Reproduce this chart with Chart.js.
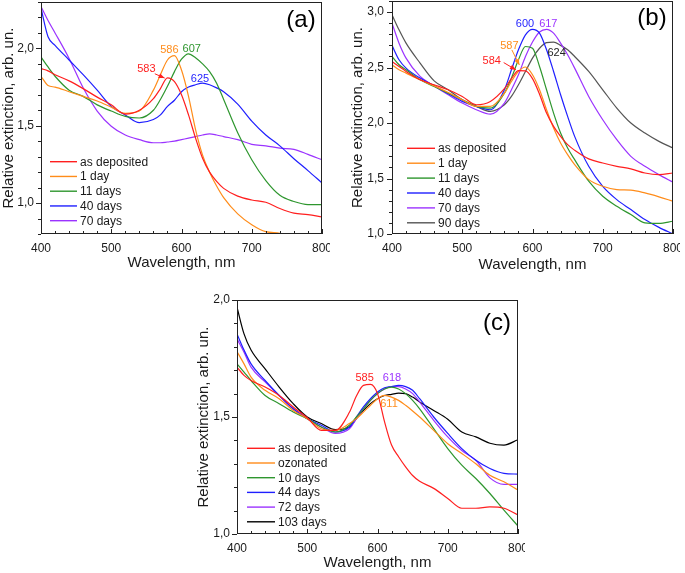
<!DOCTYPE html>
<html><head><meta charset="utf-8">
<script src="https://cdn.jsdelivr.net/npm/chart.js@4/dist/chart.umd.min.js"></script>
<style>
html,body{margin:0;padding:0;background:#fff;}
body{width:685px;height:573px;position:relative;overflow:hidden;}
canvas{position:absolute;}
</style></head><body>
<canvas id="ca" width="330" height="275" style="left:0;top:0"></canvas>
<canvas id="cb" width="335" height="275" style="left:345px;top:0"></canvas>
<canvas id="cc" width="330" height="288" style="left:195px;top:285px"></canvas>
<script>
// ---------- shared wavelength grid (nm) ----------
const wl = [400,410,420,440,460,480,500,520,540,560,570,580,590,600,610,620,630,640,650,660,680,700,720,740,760,780,800];
const xTicks = [400,500,600,700,800];

// ---------- panel (a) ----------
const aLabels = ['as deposited','1 day','11 days','40 days','70 days'];
const aColors = ['#ff1f1f','#ff8c1a','#2e962e','#1f1fff','#9b33ff'];
const aDeposited = [1.87,1.855,1.83,1.79,1.74,1.685,1.635,1.575,1.60,1.675,1.74,1.81,1.785,1.70,1.57,1.42,1.29,1.20,1.14,1.095,1.045,1.02,1.005,0.965,0.935,0.925,0.91];
const aOneDay    = [1.82,1.76,1.75,1.72,1.69,1.66,1.62,1.58,1.595,1.73,1.83,1.925,1.953,1.86,1.69,1.475,1.31,1.20,1.11,1.035,0.93,0.86,0.815,0.805,0.78,0.76,0.74];
const aEleven    = [1.945,1.88,1.82,1.73,1.69,1.635,1.595,1.56,1.55,1.60,1.67,1.755,1.85,1.93,1.965,1.94,1.90,1.85,1.775,1.67,1.455,1.28,1.145,1.05,1.01,0.99,0.99];
const aForty     = [2.26,2.075,2.02,1.925,1.83,1.73,1.625,1.57,1.52,1.54,1.57,1.625,1.665,1.72,1.75,1.765,1.775,1.765,1.745,1.72,1.64,1.53,1.44,1.37,1.287,1.21,1.13];
const aSeventy   = [2.27,2.18,2.10,1.935,1.745,1.595,1.497,1.44,1.41,1.39,1.39,1.395,1.40,1.41,1.42,1.43,1.44,1.447,1.44,1.43,1.41,1.38,1.37,1.355,1.347,1.315,1.28];
const aYTicks = [1.0,1.5,2.0];
const aPeaks = [
  {t:'583', x:550, y:1.865, c:0, ax:[562,1.836,576,1.808]},
  {t:'586', x:582.7, y:1.99, c:1},
  {t:'607', x:614.5, y:1.994, c:2},
  {t:'625', x:626.3, y:1.80, c:3}
];

// ---------- panel (b) ----------
const bLabels = ['as deposited','1 day','11 days','40 days','70 days','90 days'];
const bColors = ['#ff1f1f','#ff8c1a','#2e962e','#1f1fff','#9b33ff','#555555'];
const bDeposited = [2.554,2.51,2.465,2.39,2.345,2.30,2.24,2.165,2.195,2.31,2.40,2.473,2.47,2.40,2.26,2.09,1.97,1.88,1.805,1.755,1.677,1.64,1.61,1.587,1.55,1.535,1.55];
const bOneDay    = [2.525,2.48,2.45,2.39,2.335,2.275,2.21,2.15,2.15,2.27,2.375,2.465,2.505,2.435,2.30,2.12,1.955,1.82,1.715,1.625,1.49,1.43,1.40,1.395,1.37,1.335,1.295];
const bEleven    = [2.60,2.525,2.48,2.39,2.33,2.27,2.21,2.15,2.135,2.27,2.405,2.57,2.69,2.674,2.51,2.30,2.09,1.91,1.775,1.67,1.476,1.34,1.25,1.175,1.10,1.095,1.115];
const bForty     = [2.70,2.57,2.495,2.405,2.335,2.265,2.195,2.15,2.12,2.30,2.48,2.66,2.795,2.845,2.81,2.66,2.465,2.255,2.06,1.88,1.61,1.43,1.31,1.22,1.13,1.06,1.00];
const bSeventy   = [2.90,2.72,2.585,2.42,2.335,2.255,2.18,2.12,2.08,2.18,2.30,2.435,2.60,2.73,2.82,2.845,2.81,2.72,2.615,2.495,2.24,2.03,1.85,1.70,1.61,1.535,1.467];
const bNinety    = [2.975,2.84,2.72,2.54,2.38,2.30,2.21,2.15,2.105,2.165,2.24,2.345,2.465,2.585,2.674,2.725,2.73,2.70,2.66,2.60,2.465,2.30,2.135,2.00,1.91,1.835,1.775];
const bYTicks = [1.0,1.5,2.0,2.5,3.0];
const bPeaks = [
  {t:'584', x:542, y:2.563, c:0, ax:[559,2.545,576.5,2.479]},
  {t:'587', x:567, y:2.698, c:1, ax:[570.6,2.659,581.3,2.524]},
  {t:'600', x:589.3, y:2.892, c:3},
  {t:'617', x:622.5, y:2.892, c:4},
  {t:'624', x:634.4, y:2.635, c:5, dark:true}
];

// ---------- panel (c) ----------
const cLabels = ['as deposited','ozonated','10 days','44 days','72 days','103 days'];
const cColors = ['#ff1f1f','#ff8c1a','#2e962e','#1f1fff','#9b33ff','#000000'];
const cDeposited = [1.713,1.678,1.656,1.628,1.592,1.543,1.497,1.443,1.443,1.52,1.59,1.635,1.639,1.60,1.48,1.38,1.33,1.287,1.25,1.225,1.195,1.152,1.11,1.11,1.116,1.11,1.081];
const cOzonated  = [1.78,1.727,1.67,1.614,1.578,1.528,1.493,1.45,1.443,1.472,1.493,1.521,1.55,1.578,1.592,1.585,1.571,1.55,1.526,1.50,1.443,1.386,1.344,1.30,1.251,1.223,1.188];
const cTen       = [1.727,1.692,1.656,1.592,1.557,1.521,1.493,1.457,1.436,1.465,1.50,1.535,1.571,1.60,1.62,1.628,1.62,1.60,1.571,1.535,1.45,1.365,1.294,1.237,1.173,1.102,1.034];
const cFortyFour = [1.855,1.786,1.727,1.656,1.592,1.535,1.493,1.465,1.436,1.457,1.50,1.543,1.578,1.607,1.625,1.63,1.635,1.63,1.614,1.578,1.50,1.43,1.365,1.315,1.28,1.259,1.256];
const cSeventyTwo= [1.834,1.777,1.713,1.65,1.592,1.535,1.493,1.457,1.43,1.45,1.493,1.535,1.571,1.60,1.62,1.63,1.63,1.62,1.60,1.564,1.486,1.415,1.357,1.315,1.24,1.212,1.212];
const cHundred3  = [1.969,1.855,1.786,1.706,1.628,1.557,1.50,1.472,1.446,1.457,1.493,1.528,1.557,1.578,1.592,1.597,1.602,1.60,1.585,1.564,1.528,1.49,1.436,1.415,1.388,1.38,1.403];
const cYTicks = [1.0,1.5,2.0];
const cPeaks = [
  {t:'585', x:581.7, y:1.666, c:0},
  {t:'618', x:620.6, y:1.666, c:4},
  {t:'611', x:616.4, y:1.554, c:1}
];

const FONT = "'Liberation Sans', Arial, Helvetica, sans-serif";
const TXT = '#1a1a1a';
Chart.defaults.font.family = FONT;

const decor = {
  id: 'decor',
  afterDatasetsDraw(chart, args, o) {
    const {ctx, chartArea: ca, scales: {x, y}} = chart;
    ctx.save();
    ctx.strokeStyle = '#222'; ctx.lineWidth = 1;
    // frame
    ctx.strokeRect(Math.round(ca.left) + 0.5, Math.round(ca.top) + 0.5,
                   Math.round(ca.right - ca.left) - 1, Math.round(ca.bottom - ca.top) - 1);
    ctx.beginPath();
    for (let v = 400; v <= 800; v += 20) {
      const px = Math.round(x.getPixelForValue(v)) + 0.5;
      const L = v % 100 === 0 ? 5 : 3;
      ctx.moveTo(px, ca.bottom); ctx.lineTo(px, ca.bottom - L);
    }
    for (let k = Math.ceil(y.min * 10 - 1e-6); k <= Math.floor(y.max * 10 + 1e-6); k++) {
      const py = Math.round(y.getPixelForValue(k / 10)) + 0.5;
      const L = k % 5 === 0 ? 5 : 3;
      ctx.moveTo(ca.left, py); ctx.lineTo(ca.left - L, py);
    }
    ctx.stroke();
    // legend
    const ds = chart.data.datasets;
    ctx.font = '12px ' + FONT;
    ctx.textBaseline = 'middle'; ctx.textAlign = 'left';
    ds.forEach((d, i) => {
      const yy = ca.bottom - o.legTop + i * o.legStep;
      ctx.strokeStyle = d.borderColor; ctx.lineWidth = 1.4;
      ctx.beginPath(); ctx.moveTo(ca.left + o.legX0, yy); ctx.lineTo(ca.left + o.legX1, yy); ctx.stroke();
      ctx.fillStyle = TXT;
      ctx.fillText(d.label, ca.left + o.legX1 + 3, yy + 0.5);
    });
    // peak labels
    ctx.font = '11px ' + FONT; ctx.textAlign = 'center';
    o.peaks.forEach(p => {
      const col = p.dark ? '#222' : ds[p.c].borderColor;
      ctx.fillStyle = col;
      ctx.fillText(p.t, x.getPixelForValue(p.x), y.getPixelForValue(p.y));
      if (p.ax) {
        const x1 = x.getPixelForValue(p.ax[0]), y1 = y.getPixelForValue(p.ax[1]);
        const x2 = x.getPixelForValue(p.ax[2]), y2 = y.getPixelForValue(p.ax[3]);
        ctx.strokeStyle = col; ctx.lineWidth = 1;
        ctx.beginPath(); ctx.moveTo(x1, y1); ctx.lineTo(x2, y2); ctx.stroke();
        const a = Math.atan2(y2 - y1, x2 - x1);
        ctx.beginPath();
        ctx.moveTo(x2, y2);
        ctx.lineTo(x2 - 6 * Math.cos(a) + 2.5 * Math.sin(a), y2 - 6 * Math.sin(a) - 2.5 * Math.cos(a));
        ctx.lineTo(x2 - 6 * Math.cos(a) - 2.5 * Math.sin(a), y2 - 6 * Math.sin(a) + 2.5 * Math.cos(a));
        ctx.closePath(); ctx.fill();
      }
    });
    // panel letter
    ctx.font = '24px ' + FONT; ctx.fillStyle = '#000';
    ctx.fillText(o.letter, ca.right - 21, ca.top + o.letterDy);
    ctx.restore();
  }
};

function makeChart(id, p) {
  const datasets = p.series.map((arr, i) => ({
    label: p.labels[i],
    data: wl.map((w, j) => ({x: w, y: arr[j]})),
    borderColor: p.colors[i],
    borderWidth: 1.2,
    pointRadius: 0,
    fill: false,
    cubicInterpolationMode: 'monotone'
  }));
  return new Chart(document.getElementById(id), {
    type: 'line',
    data: {datasets},
    plugins: [decor],
    options: {
      responsive: false, animation: false, events: [],
      layout: {padding: {left: 0, right: p.padR, top: p.padT, bottom: 0}},
      plugins: {
        legend: {display: false}, tooltip: {enabled: false},
        decor: {peaks: p.peaks, letter: p.letter, letterDy: p.letterDy,
                legTop: p.legTop, legStep: p.legStep, legX0: p.legX0, legX1: p.legX1}
      },
      scales: {
        x: {
          type: 'linear', min: 400, max: 800,
          grid: {display: false, drawTicks: false}, border: {display: false},
          ticks: {font: {size: 12}, color: TXT, padding: 7, maxRotation: 0, autoSkip: false},
          afterBuildTicks: s => { s.ticks = xTicks.map(v => ({value: v})); },
          afterFit: s => { s.height = p.xH; s.paddingLeft = 0; s.paddingRight = 0; },
          title: {display: true, text: 'Wavelength, nm', color: TXT, font: {size: 15}, padding: {top: 0, bottom: p.xTitlePad}}
        },
        y: {
          type: 'linear', min: p.yMin, max: p.yMax,
          grid: {display: false, drawTicks: false}, border: {display: false},
          ticks: {font: {size: 12}, color: TXT, padding: p.yTickPad, autoSkip: false,
                  callback: v => v.toFixed(1).replace('.', ',')},
          afterBuildTicks: s => { s.ticks = p.yTicks.map(v => ({value: v})); },
          afterFit: s => { s.width = p.yW; s.paddingTop = 0; s.paddingBottom = 0; },
          title: {display: true, text: 'Relative extinction, arb. un.', color: TXT, font: {size: 15}, padding: {top: p.yTitlePad, bottom: 0}}
        }
      }
    }
  });
}

makeChart('ca', {
  series: [aDeposited, aOneDay, aEleven, aForty, aSeventy], labels: aLabels, colors: aColors,
  yMin: 0.8, yMax: 2.3, yTicks: aYTicks, peaks: aPeaks, letter: '(a)', letterDy: 18,
  padR: 8, padT: 2, xH: 41, yW: 41, xTitlePad: 3, yTitlePad: 0, yTickPad: 7,
  legTop: 72.3, legStep: 14.75, legX0: 9, legX1: 36
});
makeChart('cb', {
  series: [bDeposited, bOneDay, bEleven, bForty, bSeventy, bNinety], labels: bLabels, colors: bColors,
  yMin: 1.0, yMax: 3.1, yTicks: bYTicks, peaks: bPeaks, letter: '(b)', letterDy: 17,
  padR: 7, padT: 1, xH: 41, yW: 47, xTitlePad: 1, yTitlePad: 4, yTickPad: 8,
  legTop: 85.7, legStep: 14.9, legX0: 15, legX1: 43
});
makeChart('cc', {
  series: [cDeposited, cOzonated, cTen, cFortyFour, cSeventyTwo, cHundred3], labels: cLabels, colors: cColors,
  yMin: 1.0, yMax: 2.0, yTicks: cYTicks, peaks: cPeaks, letter: '(c)', letterDy: 23,
  padR: 7, padT: 15, xH: 39, yW: 42, xTitlePad: 1, yTitlePad: 0, yTickPad: 7,
  legTop: 85.7, legStep: 14.7, legX0: 10, legX1: 38
});
</script>
</body></html>
